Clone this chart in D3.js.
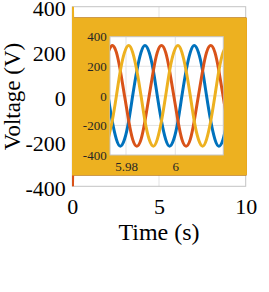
<!DOCTYPE html>
<html><head><meta charset="utf-8">
<script src="https://cdn.jsdelivr.net/npm/d3@7"></script>
<style>
body{margin:0;background:#fff}
svg{display:block}
text{font-family:"Liberation Serif","Times New Roman",serif !important}
</style>
</head><body><svg id="c" width="269" height="292"></svg>
<script>
// ---- main axes data (envelope of 50 Hz three-phase voltages over 0-10 s)
const mainXTicks = [0, 5, 10];
const mainYTicks = [-400, -200, 0, 200, 400];
const mainTime = [0, 0.02, 10];
const mainBlueUpper = [345, 345, 345];
const mainBlueLower = [-345, -345, -345];
const mainRedUpper = [345, 345, 345];
const mainRedLower = [-460, -345, -345];
const mainYellowUpper = [460, 345, 345];
const mainYellowLower = [-345, -345, -345];

// ---- inset data (zoom around t = 6 s)
const insetXTicks = [5.98, 6];
const insetXTickLabels = ["5.98", "6"];
const insetYTicks = [-400, -200, 0, 200, 400];
const insetTime = [5.9727, 5.9744, 5.9761, 5.9777, 5.9794, 5.9811, 5.9827, 5.9844, 5.9861, 5.9877,
  5.9894, 5.9911, 5.9927, 5.9944, 5.9961, 5.9977, 5.9994, 6.0011, 6.0027, 6.0044,
  6.0061, 6.0077, 6.0094, 6.0111, 6.0127, 6.0144, 6.0161, 6.0177, 6.0194, 6.0211];
const insetBlue = [0, -170, -294, -340, -294, -170, 0, 170, 294, 340,
  294, 170, 0, -170, -294, -340, -294, -170, 0, 170,
  294, 340, 294, 170, 0, -170, -294, -340, -294, -170];
const insetRed = [294, 340, 294, 170, 0, -170, -294, -340, -294, -170,
  0, 170, 294, 340, 294, 170, 0, -170, -294, -340,
  -294, -170, 0, 170, 294, 340, 294, 170, 0, -170];
const insetYellow = [-294, -170, 0, 170, 294, 340, 294, 170, 0, -170,
  -294, -340, -294, -170, 0, 170, 294, 340, 294, 170,
  0, -170, -294, -340, -294, -170, 0, 170, 294, 340];

const colors = {blue: "#0072BD", red: "#D95319", yellow: "#EDB120"};
const boxColor = "#c4c4c4", gridColor = "#e3e3e3", textColor = "#262626";
const serif = '"Liberation Serif","Times New Roman",serif';

const svg = d3.select("#c");

// ---------- main axes
const x = d3.scaleLinear([0, 10], [72.3, 245.7]);
const y = d3.scaleLinear([-400, 400], [186.3, 6.7]);
const main = svg.append("g");

main.append("g").selectAll("line").data(mainXTicks.slice(1, -1)).join("line")
  .attr("x1", d => x(d)).attr("x2", d => x(d)).attr("y1", y(400)).attr("y2", y(-400))
  .attr("stroke", gridColor);
main.append("g").selectAll("line").data(mainYTicks.slice(1, -1)).join("line")
  .attr("y1", d => y(d)).attr("y2", d => y(d)).attr("x1", x(0)).attr("x2", x(10))
  .attr("stroke", gridColor);
main.append("rect").attr("x", x(0)).attr("y", y(400)).attr("width", x(10) - x(0))
  .attr("height", y(-400) - y(400)).attr("fill", "none").attr("stroke", boxColor);

svg.append("defs").append("clipPath").attr("id", "mclip").append("rect")
  .attr("x", x(0) - 0.3).attr("y", y(400)).attr("width", x(10) - x(0) + 1.5)
  .attr("height", y(-400) - y(400));

const env = (up, lo) => mainTime.map((t, i) => ({t, u: up[i], l: lo[i]}));
const area = d3.area().x(d => x(d.t)).y0(d => y(d.l)).y1(d => y(d.u));
const mg = main.append("g").attr("clip-path", "url(#mclip)");
[[mainBlueUpper, mainBlueLower, colors.blue],
 [mainRedUpper, mainRedLower, colors.red],
 [mainYellowUpper, mainYellowLower, colors.yellow]].forEach(([u, l, c]) => {
  mg.append("path").datum(env(u, l)).attr("d", area)
    .attr("fill", c).attr("stroke", c).attr("stroke-width", 3).attr("stroke-linejoin", "round");
});

const mxa = main.append("g").attr("transform", `translate(0,${y(-400)})`)
  .call(d3.axisBottom(x).tickValues(mainXTicks).tickSize(0).tickPadding(12).tickFormat(d => String(d)));
mxa.attr("font-family", serif);
mxa.select(".domain").remove();
mxa.selectAll("text").attr("font-size", 22).attr("fill", "#000");
const mya = main.append("g").attr("transform", `translate(${x(0)},0)`)
  .call(d3.axisLeft(y).tickValues(mainYTicks).tickSize(0).tickPadding(6.5).tickFormat(d => String(d)));
mya.attr("font-family", serif);
mya.select(".domain").remove();
mya.selectAll("text").attr("font-size", 22).attr("fill", "#000").attr("dy", "0.42em");

svg.append("text").attr("x", (x(0) + x(10)) / 2).attr("y", 240).attr("text-anchor", "middle")
  .attr("font-size", 24).attr("fill", "#000").text("Time (s)");
svg.append("text").attr("transform", `translate(20,${(y(400) + y(-400)) / 2}) rotate(-90)`)
  .attr("text-anchor", "middle").attr("font-size", 23).attr("fill", "#000").text("Voltage (V)");

// ---------- inset axes
const xi = d3.scaleLinear([5.9735, 6.0195], [110, 223.3]);
const yi = d3.scaleLinear([-400, 400], [155, 36.7]);
const ins = svg.append("g");
ins.append("rect").attr("x", xi.range()[0]).attr("y", yi(400))
  .attr("width", xi.range()[1] - xi.range()[0]).attr("height", yi(-400) - yi(400)).attr("fill", "#fff");
ins.append("g").selectAll("line").data(insetXTicks).join("line")
  .attr("x1", d => xi(d)).attr("x2", d => xi(d)).attr("y1", yi(400)).attr("y2", yi(-400))
  .attr("stroke", gridColor);
ins.append("g").selectAll("line").data(insetYTicks.slice(1, -1)).join("line")
  .attr("y1", d => yi(d)).attr("y2", d => yi(d)).attr("x1", xi.range()[0]).attr("x2", xi.range()[1])
  .attr("stroke", gridColor);
ins.append("rect").attr("x", xi.range()[0]).attr("y", yi(400))
  .attr("width", xi.range()[1] - xi.range()[0]).attr("height", yi(-400) - yi(400))
  .attr("fill", "none").attr("stroke", boxColor);

svg.select("defs").append("clipPath").attr("id", "iclip").append("rect")
  .attr("x", xi.range()[0]).attr("y", yi(400) - 2).attr("width", xi.range()[1] - xi.range()[0])
  .attr("height", yi(-400) - yi(400) + 4);
const line = d3.line().x(d => xi(d[0])).y(d => yi(d[1])).curve(d3.curveNatural);
const ig = ins.append("g").attr("clip-path", "url(#iclip)");
[[insetBlue, colors.blue], [insetRed, colors.red], [insetYellow, colors.yellow]].forEach(([v, c]) => {
  ig.append("path").datum(insetTime.map((t, i) => [t, v[i]])).attr("d", line)
    .attr("fill", "none").attr("stroke", c).attr("stroke-width", 3);
});

const ixa = ins.append("g").attr("transform", `translate(0,${yi(-400)})`)
  .call(d3.axisBottom(xi).tickValues(insetXTicks).tickSize(0).tickPadding(7)
    .tickFormat((d, i) => insetXTickLabels[i]));
ixa.attr("font-family", serif);
ixa.select(".domain").remove();
ixa.selectAll("text").attr("font-size", 13).attr("fill", textColor);
const iya = ins.append("g").attr("transform", `translate(${xi.range()[0]},0)`)
  .call(d3.axisLeft(yi).tickValues(insetYTicks).tickSize(0).tickPadding(3.3).tickFormat(d => String(d)));
iya.attr("font-family", serif);
iya.select(".domain").remove();
iya.selectAll("text").attr("font-size", 13).attr("fill", textColor);
</script>
</body></html>
